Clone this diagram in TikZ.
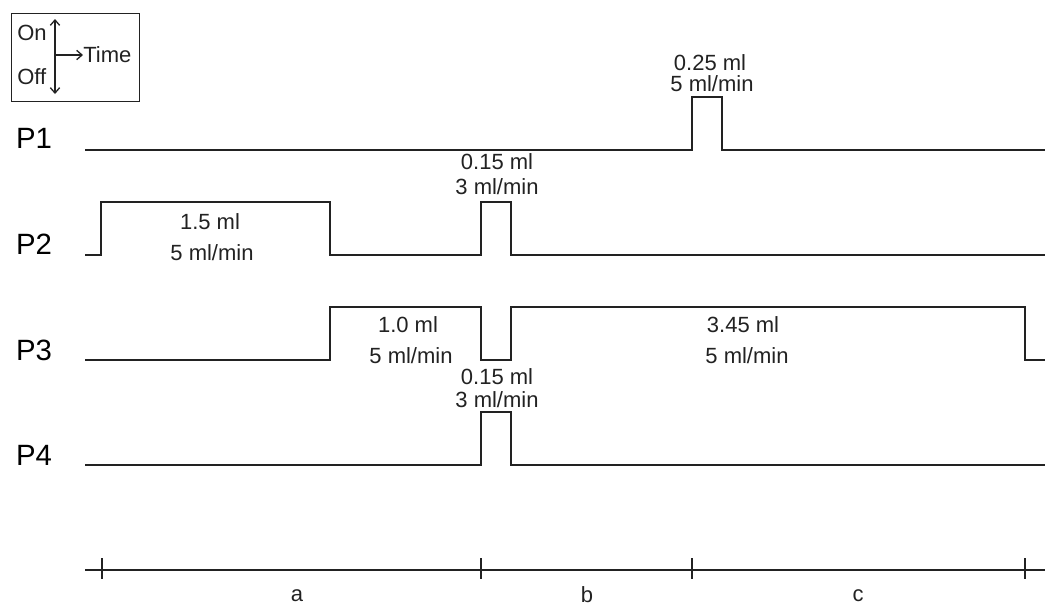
\documentclass[tikz,border=0pt]{standalone}
\usepackage{fontspec}
\setmainfont{Liberation Sans}
\usetikzlibrary{arrows.meta}
\definecolor{ink}{HTML}{222222}
\begin{document}
\begin{tikzpicture}[x=0.75pt,y=-0.75pt,
  wave/.style={draw=ink,line width=1.4pt,line join=miter},
  lbl/.style={font=\fontsize{16.5}{18}\selectfont,text=ink,inner sep=0pt,anchor=center},
  plbl/.style={font=\fontsize{22}{24}\selectfont,text=black,inner sep=0pt,anchor=center},
  tick/.style={draw=ink,line width=1.4pt},
  barb/.style={-{Straight Barb[length=4pt,width=7pt]},draw=ink,line width=1pt}]
\useasboundingbox (0,0) rectangle (1045,608);
% legend
\node[draw=ink,line width=1pt,inner sep=0pt,
  minimum width=96pt,minimum height=66pt,anchor=north west] (legend) at (11,13) {};
\node[lbl,anchor=west] (on) at (17,33) {On};
\node[lbl,anchor=west] (off) at (17,77) {Off};
\coordinate (vtop) at (55,19);
\coordinate (vbot) at (55,94);
\coordinate (vmid) at (55,55);
\node[lbl,anchor=west] (time) at (83,55) {Time};
\draw[barb] (vmid) -- (vtop);
\draw[barb] (vmid) -- (vbot);
\draw[barb] (vmid) -- (time.west);
% pump labels
\node[plbl] (p1) at (34,138) {P1};
\node[plbl] (p2) at (34,244) {P2};
\node[plbl] (p3) at (34,350) {P3};
\node[plbl] (p4) at (34,455) {P4};
% P1
\draw[wave] (85,150) -- (692,150) -- (692,97) -- (722,97) -- (722,150) -- (1045,150);
\node[lbl] (t1a) at (710,63) {0.25 ml};
\node[lbl] (t1b) at (712,84) {5 ml/min};
% P2
\draw[wave] (85,255) -- (101,255) -- (101,202) -- (330,202) -- (330,255) -- (481,255)
  -- (481,202) -- (511,202) -- (511,255) -- (1045,255);
\node[lbl] (t2a) at (210,222) {1.5 ml};
\node[lbl] (t2b) at (212,253) {5 ml/min};
\node[lbl] (t2c) at (497,162) {0.15 ml};
\node[lbl] (t2d) at (497,187) {3 ml/min};
% P3
\draw[wave] (85,360) -- (330,360) -- (330,307) -- (481,307) -- (481,360) -- (511,360)
  -- (511,307) -- (1025,307) -- (1025,360) -- (1045,360);
\node[lbl] (t3a) at (408,325) {1.0 ml};
\node[lbl] (t3b) at (411,356) {5 ml/min};
\node[lbl] (t3c) at (743,325) {3.45 ml};
\node[lbl] (t3d) at (747,356) {5 ml/min};
% P4
\draw[wave] (85,465) -- (481,465) -- (481,412) -- (511,412) -- (511,465) -- (1045,465);
\node[lbl] (t4a) at (497,377) {0.15 ml};
\node[lbl] (t4b) at (497,400) {3 ml/min};
% time axis
\coordinate (ax0) at (85,570);
\coordinate (ax1) at (1045,570);
\draw[tick] (ax0) -- (ax1);
\foreach \x in {102,481,692,1025}{
  \draw[tick] (\x,558) -- (\x,579);
}
\node[lbl] (la) at (297,596) {a};
\node[lbl] (lb) at (587,595) {b};
\node[lbl] (lc) at (858,596) {c};
\end{tikzpicture}
\end{document}
